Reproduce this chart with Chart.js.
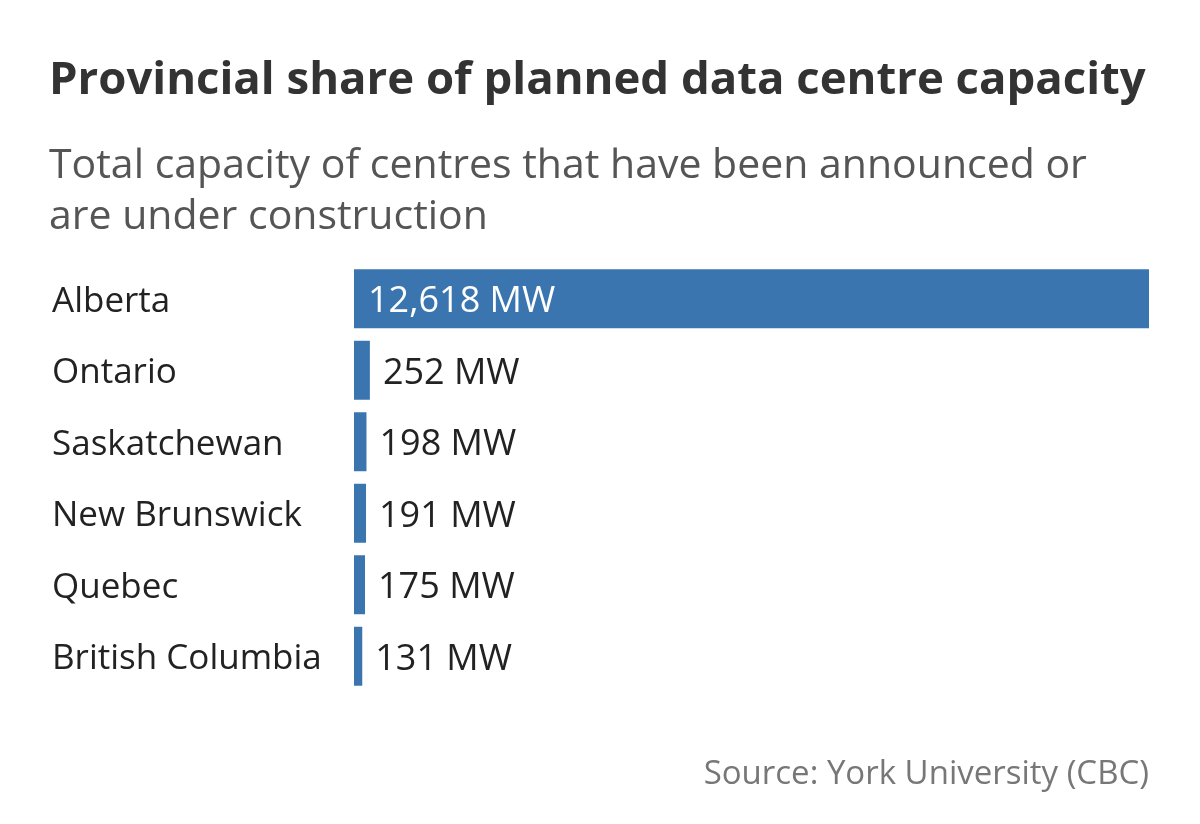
<!DOCTYPE html>
<html lang="en">
<head>
  <meta charset="UTF-8" />
  <title>Provincial share of planned data centre capacity</title>
  <style>
    * { box-sizing: border-box; margin: 0; padding: 0; }
    html, body { width: 1200px; height: 824px; background: #fff; overflow: hidden; }
    body { position: relative; font-family: "Open Sans", sans-serif; }
    #chart-box { position: absolute; left: 0; top: 0; width: 1200px; height: 824px; }
    #title {
      position: absolute; left: 49px; top: 48px;
      font-size: 45.5px; font-weight: 700; color: #333; line-height: 56px; white-space: nowrap;
    }
    #subtitle {
      position: absolute; left: 49px; top: 137px;
      font-size: 41px; color: #555; line-height: 51px; white-space: nowrap;
    }
    #source {
      position: absolute; right: 51px; top: 750px;
      font-size: 33px; color: #777; line-height: 44px; white-space: nowrap;
    }
  </style>
  <script src="https://cdn.jsdelivr.net/npm/chart.js@4/dist/chart.umd.min.js"></script>
</head>
<body>
  <div id="chart-box"><canvas id="capChart" width="1200" height="824"></canvas></div>
  <div id="title">Provincial share of planned data centre capacity</div>
  <div id="subtitle">Total capacity of centres that have been announced or<br>are under construction</div>
  <div id="source">Source: York University (CBC)</div>

  <script>
    // data (MW)
    const provinces = ['Alberta', 'Ontario', 'Saskatchewan', 'New Brunswick', 'Quebec', 'British Columbia'];
    const capacityMW = [12618, 252, 198, 191, 175, 131];
    const valueLabels = ['12,618 MW', '252 MW', '198 MW', '191 MW', '175 MW', '131 MW'];

    const BAR_BLUE = '#3a75af';

    // value labels: inside the first (long) bar, after the bar end for the rest
    const barLabels = {
      id: 'barLabels',
      afterDatasetsDraw(chart) {
        const c = chart.ctx;
        const meta = chart.getDatasetMeta(0);
        c.save();
        c.font = '36px "Open Sans", sans-serif';
        c.textBaseline = 'middle';
        c.textAlign = 'left';
        meta.data.forEach((bar, i) => {
          const inside = i === 0;
          c.fillStyle = inside ? '#fff' : '#222';
          const x = inside ? bar.base + 14 : bar.x + 13;
          c.fillText(valueLabels[i], x, bar.y + 3);
        });
        c.restore();
      }
    };

    const ctx = document.getElementById('capChart').getContext('2d');
    new Chart(ctx, {
      type: 'bar',
      data: {
        labels: provinces,
        datasets: [{
          data: capacityMW,
          backgroundColor: BAR_BLUE,
          borderWidth: 0,
          barPercentage: 0.825,
          categoryPercentage: 1
        }]
      },
      options: {
        indexAxis: 'y',
        responsive: false,
        animation: false,
        layout: { padding: { left: 52, right: 51, top: 263, bottom: 132 } },
        scales: {
          x: { display: false, min: 0, max: 12618 },
          y: {
            grid: { display: false },
            border: { display: false },
            ticks: {
              crossAlign: 'far',
              color: '#222',
              padding: 0,
              labelOffset: 3,
              font: { family: '"Open Sans", sans-serif', size: 35 }
            },
            afterFit: s => { s.width = 354 - 52; }
          }
        },
        plugins: { legend: { display: false }, tooltip: { enabled: false } }
      },
      plugins: [barLabels]
    });
  </script>
</body>
</html>
